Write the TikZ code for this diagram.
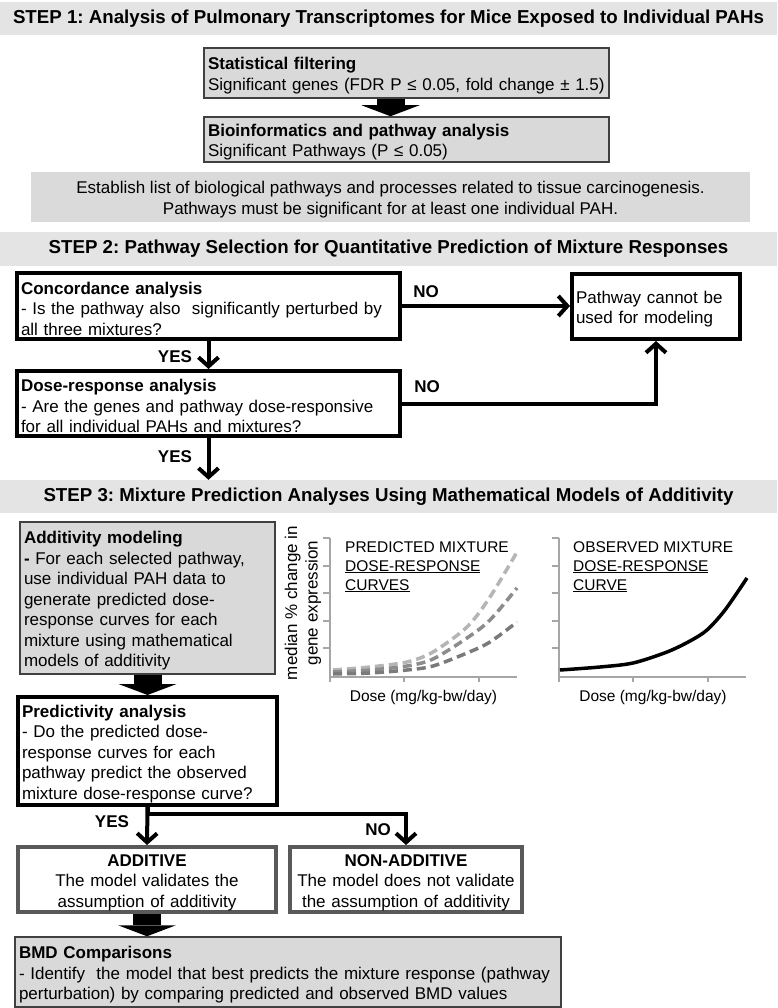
\documentclass[tikz,border=0pt]{standalone}
\usepackage{fontspec}
\setmainfont{Liberation Sans}
\usetikzlibrary{arrows.meta}

\definecolor{bandgray}{HTML}{E4E4E4}
\definecolor{estgray}{HTML}{DADADA}
\definecolor{boxgray}{HTML}{D9D9D9}
\definecolor{boxline}{HTML}{404040}
\definecolor{outline}{HTML}{595959}
\definecolor{axisgray}{HTML}{A6A6A6}
\definecolor{lightcurve}{HTML}{B5B5B5}
\definecolor{midcurve}{HTML}{8C8C8C}
\definecolor{darkcurve}{HTML}{7A7A7A}

\newcommand{\bodyfont}{\fontsize{17}{20.5}\selectfont}
\newcommand{\plotfont}{\fontsize{15.5}{19}\selectfont}
\newcommand{\topgap}{\rule{0pt}{18pt}}
\frenchspacing

\begin{document}
\frenchspacing
\begin{tikzpicture}[x=1pt, y=-1pt,
  every node/.style={font=\bodyfont, inner xsep=4pt, inner ysep=0pt},
  band/.style={fill=bandgray, minimum width=777pt, minimum height=33pt,
    font=\bfseries\fontsize{18.7}{22}\selectfont},
  graybox/.style={draw=boxline, fill=boxgray, line width=1.5pt, align=left},
  thickbox/.style={draw=black, line width=4pt, align=left},
  outbox/.style={draw=outline, line width=4pt, align=center},
  lbl/.style={font=\bfseries\bodyfont},
  flow/.style={line width=4pt, -{Straight Barb[length=9pt, width=20pt]}},
  fat/.style={line width=28pt, -{Triangle[length=11pt, width=58pt, line width=0pt]}},
  axisline/.style={draw=axisgray, line width=1.2pt},
  dashcurve/.style={line width=3.5pt, dash pattern=on 9pt off 5pt}]

\fill[white] (0,0) rectangle (777,1008);
\useasboundingbox (0,0) rectangle (777,1008);

% Step 1
\node[band] (step1) at (388.5,18.5) {STEP 1: Analysis of Pulmonary Transcriptomes for Mice Exposed to Individual PAHs};

\node[graybox, text width=397pt, minimum height=50pt] (stat) at (406.5,73)
  {\topgap\textbf{Statistical filtering}\\Significant genes (FDR P ≤ 0.05, fold change ± 1.5)};
\node[graybox, text width=397pt, minimum height=45pt] (bio) at (406.5,139.5)
  {\topgap\textbf{Bioinformatics and pathway analysis}\\Significant Pathways (P ≤ 0.05)};
\node[fill=estgray, minimum width=719pt, minimum height=50pt, align=center] (est) at (390.5,197)
  {\topgap Establish list of biological pathways and processes related to tissue carcinogenesis.\\Pathways must be significant for at least one individual PAH.};

\draw[fat] (stat.south -| est.center) -- (bio.north -| est.center);

% Step 2
\node[band] (step2) at (388.5,249) {STEP 2: Pathway Selection for Quantitative Prediction of Mixture Responses};

\node[thickbox, text width=375pt, minimum height=66pt] (concord) at (208.5,306)
  {\topgap\textbf{Concordance analysis}\\- Is the pathway also\ \ significantly perturbed by\\all three mixtures?};
\node[thickbox, text width=160pt, minimum height=65pt] (nomodel) at (656,306.5)
  {\topgap Pathway cannot be\\used for modeling};
\node[thickbox, text width=375pt, minimum height=65pt] (dose) at (208.5,403.5)
  {\topgap\textbf{Dose-response analysis}\\- Are the genes and pathway dose-responsive\\for all individual PAHs and mixtures?};

\node[lbl] (no1) at (426,292) {NO};
\node[lbl] (yes1) at (175,357) {YES};
\node[lbl] (no2) at (427,387) {NO};
\node[lbl] (yes2) at (175,457) {YES};

\draw[flow] (concord.east) -- (concord.east -| nomodel.west);
\draw[flow] (concord.south) -- (dose.north);
\draw[flow] (dose.east) -| (nomodel.south);

% Step 3
\node[band] (step3) at (388.5,496.5) {STEP 3: Mixture Prediction Analyses Using Mathematical Models of Additivity};

\draw[flow] (dose.south) -- (dose.south |- step3.north);

\node[graybox, text width=247pt, minimum height=152pt] (addm) at (147.5,598)
  {\topgap\textbf{Additivity modeling}\\\textbf{-} For each selected pathway,\\use individual PAH data to\\generate predicted dose-\\response curves for each\\mixture using mathematical\\models of additivity};
\node[thickbox, text width=251pt, minimum height=108pt] (pred) at (147.5,751)
  {\topgap\textbf{Predictivity analysis}\\- Do the predicted dose-\\response curves for each\\pathway predict the observed\\mixture dose-response curve?};
\node[outbox, text width=250pt, minimum height=65pt] (add) at (147,879.5)
  {\topgap\textbf{ADDITIVE}\\The model validates the\\assumption of additivity};
\node[outbox, text width=224pt, minimum height=65pt] (nonadd) at (406,879.5)
  {\topgap\textbf{NON-ADDITIVE}\\The model does not validate\\the assumption of additivity};
\node[graybox, text width=538pt, minimum height=70pt] (bmd) at (288,972)
  {\topgap\textbf{BMD Comparisons}\\- Identify\ \ the model that best predicts the mixture response (pathway\\perturbation) by comparing predicted and observed BMD values};

\node[lbl] (yes3) at (112,822) {YES};
\node[lbl] (no3) at (378,830) {NO};

\draw[fat] (addm.south) -- (pred.north);
\draw[flow] (pred.south) -- (add.north);
\draw[flow] (pred.south) -- ++(0,7) -| (nonadd.north);
\draw[fat] (add.south) -- (add.south |- bmd.north);

% plot axes
\foreach \ox in {330,559} {
  \draw[axisline] (\ox,538) -- (\ox,682);
  \draw[axisline] (\ox,677) -- ({\ox+187},677);
  \foreach \t in {538,566,593,621,648}
    \draw[axisline] ({\ox-7},\t) -- (\ox,\t);
  \foreach \t in {74,149}
    \draw[axisline] ({\ox+\t},677) -- ({\ox+\t},682);
}

% predicted curves
\draw[dashcurve, lightcurve] plot[smooth] coordinates {(333,670) (370,667) (407,662) (433,652) (467,627) (490,597) (517,552)};
\draw[dashcurve, midcurve] plot[smooth] coordinates {(333,672) (370,670) (407,666) (433,659) (467,638) (490,620) (517,588)};
\draw[dashcurve, darkcurve] plot[smooth] coordinates {(333,674) (370,673) (407,670) (433,666) (467,653) (490,642) (517,622)};

% observed curve
\draw[line width=3.5pt] plot[smooth] coordinates {(560,670) (600,667) (633,663) (667,652) (690,641) (707,630) (725,610) (747,578)};

\node[font=\plotfont, align=left, anchor=north west, inner xsep=0pt] (predlbl) at (345,541)
  {PREDICTED MIXTURE\\\underline{DOSE-RESPONSE}\\\underline{CURVES}};
\node[font=\plotfont, align=left, anchor=north west, inner xsep=0pt] (obslbl) at (573,541)
  {OBSERVED MIXTURE\\\underline{DOSE-RESPONSE}\\\underline{CURVE}};
\node[font=\plotfont] (xlbl1) at (423.5,697) {Dose (mg/kg-bw/day)};
\node[font=\plotfont] (xlbl2) at (653,697) {Dose (mg/kg-bw/day)};
\node[rotate=90, align=center] (ylbl) at (303,603) {median \% change in\\gene expression};

\end{tikzpicture}
\end{document}
